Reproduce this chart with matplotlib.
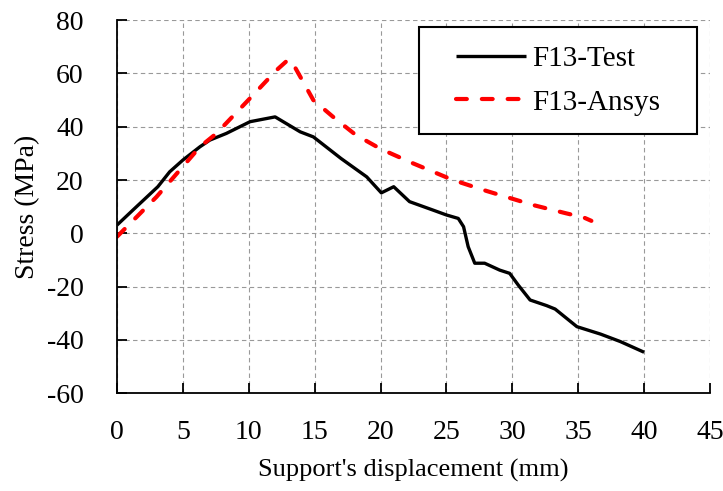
import matplotlib
matplotlib.use("Agg")
import matplotlib.pyplot as plt
from matplotlib.patches import Rectangle

plt.rcParams['font.family'] = ['Liberation Serif', 'DejaVu Serif']
plt.rcParams['axes.unicode_minus'] = False

# Measured test response
test_disp = [0.0, 1.2, 3.1, 4.0, 5.0, 6.3, 7.05, 8.3, 10.1, 12.0, 13.9, 14.9, 17.0,
             18.95, 20.06, 21.0, 22.2, 24.0, 25.0, 25.9, 26.3, 26.65, 27.15, 27.9,
             29.05, 29.8, 30.45, 31.35, 32.6, 33.25, 34.9, 36.7, 38.2, 40.0]
test_stress = [3.1, 8.7, 17.5, 23.1, 27.5, 32.5, 35.0, 37.5, 41.9, 43.7, 38.1, 36.2, 28.1,
               21.2, 15.2, 17.5, 11.9, 8.7, 6.9, 5.6, 2.5, -5.0, -11.2, -11.2,
               -13.8, -15.0, -19.4, -25.0, -27.1, -28.4, -35.0, -37.8, -40.6, -44.6]

# Finite element prediction
fem_disp = [0.0, 1.5, 3.0, 4.76, 6.3, 7.55, 10.08, 12.1, 13.0, 13.35, 14.9, 16.4,
            18.1, 20.0, 22.5, 25.5, 28.05, 31.6, 34.1, 35.4, 36.0]
fem_stress = [-1.25, 6.2, 13.7, 23.7, 32.5, 37.5, 50.6, 61.2, 65.2, 63.7, 50.0, 43.7,
              37.0, 31.7, 26.2, 20.0, 15.9, 10.6, 7.5, 6.0, 4.7]

x_ticks = [0, 5, 10, 15, 20, 25, 30, 35, 40, 45]
y_ticks = [-60, -40, -20, 0, 20, 40, 60, 80]

fig = plt.figure(figsize=(7.23, 4.91), dpi=100)
ax = fig.add_axes([0.1618, 0.199, 0.8202, 0.760])

ax.plot(test_disp, test_stress, color='black', lw=2.4, label='F13-Test',
        solid_joinstyle='round', solid_capstyle='butt')
ax.plot(fem_disp, fem_stress, color='#ff0000', lw=3.0, ls=(0, (2.6, 3.6)),
        label='F13-Ansys', dash_capstyle='round', dash_joinstyle='round')

ax.set_xlim(0, 45)
ax.set_ylim(-60, 80)
ax.set_xticks(x_ticks)
ax.set_yticks(y_ticks)
ax.grid(True, color='#999999', ls=(0, (4, 3)), lw=0.8)
ax.set_axisbelow(True)

for side in ('top', 'right'):
    ax.spines[side].set_visible(False)
for side in ('left', 'bottom'):
    ax.spines[side].set_linewidth(1.3)

ax.tick_params(direction='in', length=7, width=1.3, labelsize=20)
ax.tick_params(axis='x', pad=19)
ax.tick_params(axis='y', pad=24)
ax.set_xlabel("Support's displacement (mm)", fontsize=19, labelpad=10)
ax.set_ylabel("Stress (MPa)", fontsize=20, labelpad=5)

# Legend frame
ax.add_patch(Rectangle((0.509, 0.695), 0.469, 0.287, transform=ax.transAxes,
                       facecolor='white', edgecolor='black', lw=1.5, zorder=5,
                       clip_on=False))
leg = ax.legend(loc='center', bbox_to_anchor=(0.7437, 0.8383), fontsize=21,
                frameon=False, handlelength=2.4, handletextpad=0.2,
                borderpad=0, labelspacing=0.6, borderaxespad=0)
leg.set_zorder(6)

fig.savefig('out.png', dpi=100)
